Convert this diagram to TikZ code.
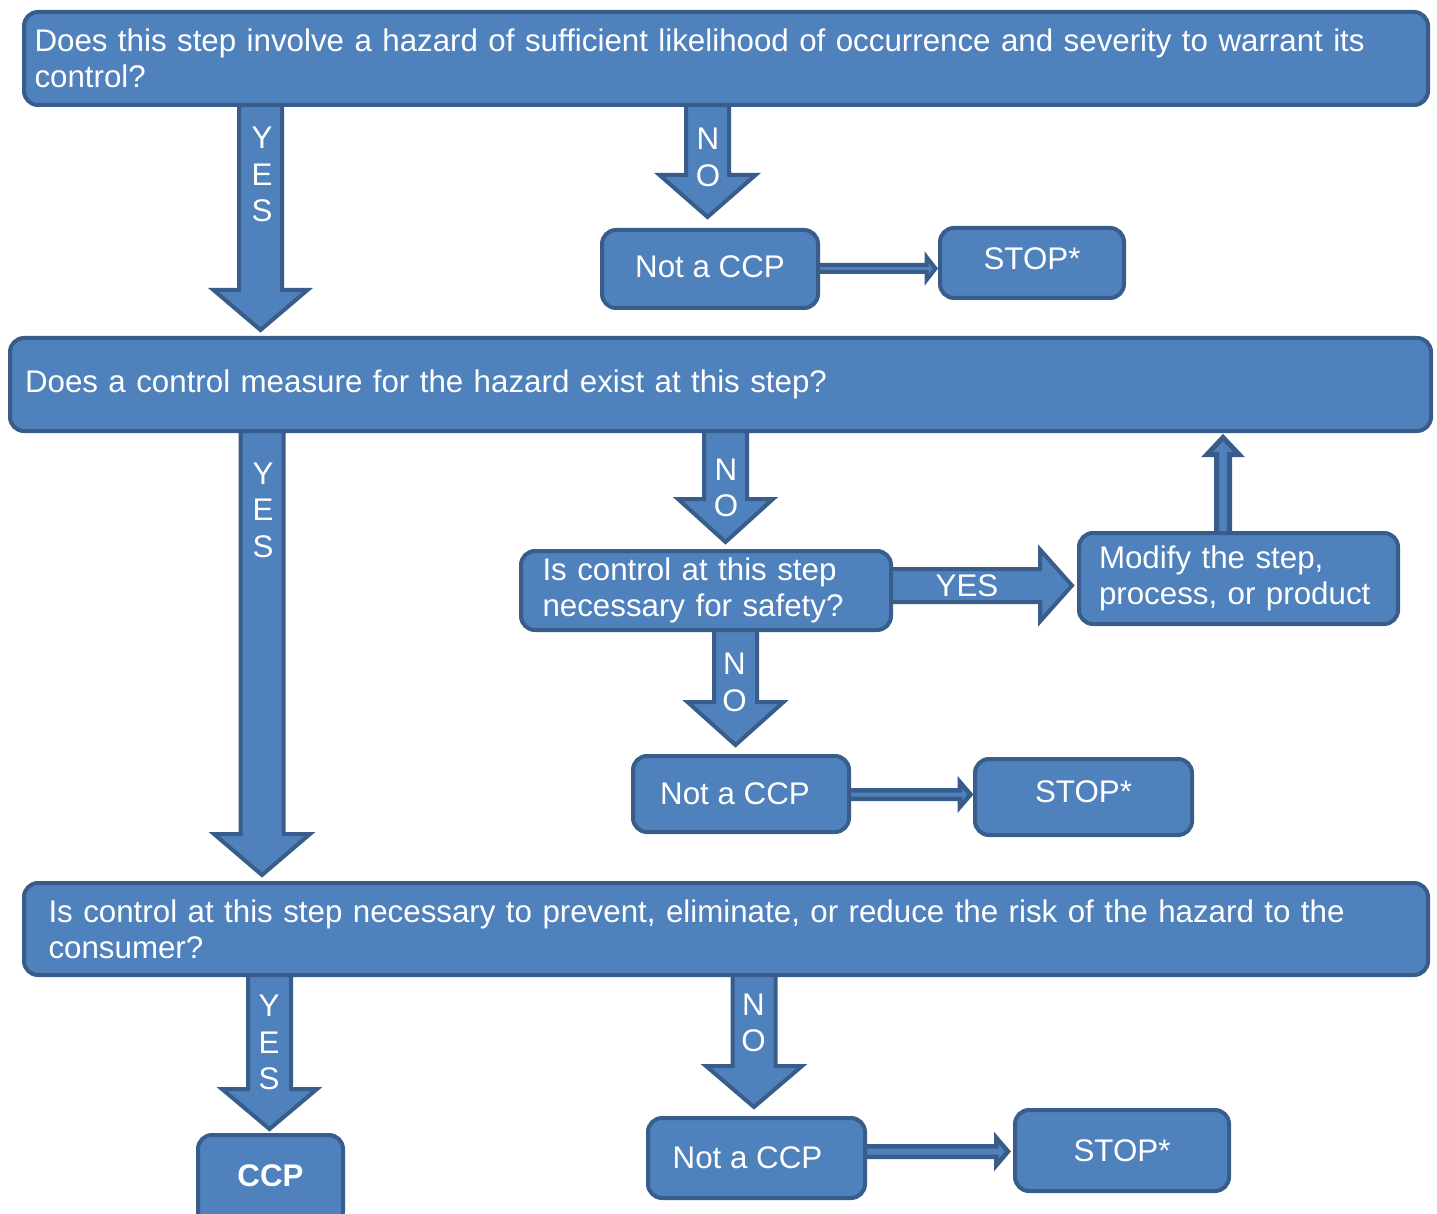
\documentclass[tikz,border=0pt]{standalone}
\usepackage{fontspec}
\setmainfont{Liberation Sans}
\usetikzlibrary{calc,backgrounds}
\definecolor{fil}{HTML}{4F81BD}
\definecolor{bdr}{HTML}{385D8A}
\newcommand\mainfs{\fontsize{31.3pt}{36pt}\selectfont}
\newcommand\lblfs{\fontsize{31.3pt}{36.5pt}\selectfont}
% #1 from, #2 to, #3 x, #4 shaft half width, #5 head half width, #6 head length, #7 gap, #8 style
\newcommand{\bkdown}[8]{%
 \draw[#8] let \p1=(#1.south), \p2=(#2.north) in
 ({#3pt-#4pt},{\y1+6pt}) -- ({#3pt+#4pt},{\y1+6pt}) -- ({#3pt+#4pt},{\y2+#7pt+#6pt})
 -- ({#3pt+#5pt},{\y2+#7pt+#6pt}) -- (#3pt,{\y2+#7pt}) -- ({#3pt-#5pt},{\y2+#7pt+#6pt})
 -- ({#3pt-#4pt},{\y2+#7pt+#6pt}) -- cycle;}
% #3 = y (pixels, downward)
\newcommand{\bkright}[8]{%
 \draw[#8] let \p1=(#1.east), \p2=(#2.west) in
 ({\x1-6pt},{-#3pt+#4pt}) -- ({\x2-#7pt-#6pt},{-#3pt+#4pt}) -- ({\x2-#7pt-#6pt},{-#3pt+#5pt})
 -- ({\x2-#7pt},{-#3pt}) -- ({\x2-#7pt-#6pt},{-#3pt-#5pt}) -- ({\x2-#7pt-#6pt},{-#3pt-#4pt})
 -- ({\x1-6pt},{-#3pt-#4pt}) -- cycle;}
\newcommand{\bkup}[8]{%
 \draw[#8] let \p1=(#1.north), \p2=(#2.south) in
 ({#3pt-#4pt},{\y1-6pt}) -- ({#3pt-#4pt},{\y2-#7pt-#6pt}) -- ({#3pt-#5pt},{\y2-#7pt-#6pt})
 -- (#3pt,{\y2-#7pt}) -- ({#3pt+#5pt},{\y2-#7pt-#6pt}) -- ({#3pt+#4pt},{\y2-#7pt-#6pt})
 -- ({#3pt+#4pt},{\y1-6pt}) -- cycle;}
\tikzset{
 box/.style={draw=bdr, fill=fil, line width=4pt, rounded corners=14pt, text=white,
   font=\mainfs, inner sep=0pt},
 barrow/.style={draw=bdr, fill=fil, line width=4pt, line join=miter},
 lbl/.style={text=white, font=\lblfs, align=center, inner sep=0pt},
}
\begin{document}
\begin{tikzpicture}[x=1pt,y=-1pt]
\useasboundingbox (0,0) rectangle (1437,1214);
% boxes
\node[box, minimum width=1404pt, minimum height=93pt, text width=1383pt, align=left] (q1) at (726,58.5)
 {Does this step involve a hazard of sufficient likelihood of occurrence and severity to warrant its\\control?};
\node[box, minimum width=216pt, minimum height=78pt] (n1) at (710,269) {\raisebox{2pt}[\height][\depth]{Not a CCP}};
\node[box, minimum width=184pt, minimum height=70pt] (s1) at (1032,263) {\raisebox{4pt}[\height][\depth]{STOP*}};
\node[box, minimum width=1421pt, minimum height=93pt, text width=1391pt, align=left] (q2) at (720.5,384.5)
 {Does a control measure for the hazard exist at this step?};
\node[box, minimum width=370pt, minimum height=79pt, text width=327pt, align=left] (qs) at (706,590.5)
 {Is control at this step\\necessary for safety?};
\node[box, minimum width=319pt, minimum height=91pt, text width=279pt, align=left] (mod) at (1238.5,578.5)
 {Modify the step,\\process, or product};
\node[box, minimum width=216pt, minimum height=76pt] (n2) at (741,794) {\hspace*{-12pt}Not a CCP};
\node[box, minimum width=217pt, minimum height=76pt] (s2) at (1083.5,797) {\raisebox{5pt}[\height][\depth]{STOP*}};
\node[box, minimum width=1404pt, minimum height=92pt, text width=1355pt, align=left] (q3) at (726,929)
 {Is control at this step necessary to prevent, eliminate, or reduce the risk of the hazard to the\\consumer?};
\node[box, minimum width=145pt, minimum height=90pt] (ccp) at (270.5,1180) {\raisebox{4pt}[\height][\depth]{\bfseries CCP}};
\node[box, minimum width=217pt, minimum height=80pt] (n3) at (756.5,1158) {\hspace*{-18pt}Not a CCP};
\node[box, minimum width=214pt, minimum height=81pt] (s3) at (1122,1150.5) {STOP*};
% arrows
\begin{pgfonlayer}{background}
\bkdown{q1}{q2}{260.5}{21.5}{47}{40}{6}{barrow}
\bkdown{q1}{n1}{707.5}{21.5}{48}{42}{11}{barrow}
\bkdown{q2}{q3}{262}{21.5}{48}{41}{6}{barrow}
\bkdown{q2}{qs}{725.5}{21.5}{47.5}{43}{7}{barrow}
\bkdown{qs}{n2}{735.5}{21.5}{48}{43}{9}{barrow}
\bkdown{q3}{ccp}{269.5}{21.5}{47.5}{40}{4}{barrow}
\bkdown{q3}{n3}{754}{21.5}{48}{41}{9}{barrow}
\bkright{qs}{mod}{585.5}{16.5}{36}{32}{5}{barrow}
\bkup{mod}{q2}{1223}{6.5}{16}{17}{4.5}{barrow, line width=5pt}
\bkright{n1}{s1}{268.5}{3.5}{11.5}{9}{2.5}{barrow}
\bkright{n2}{s2}{794.5}{4.25}{12.5}{10.75}{2.5}{barrow, line width=4.5pt}
\bkright{n3}{s3}{1151.5}{5.25}{13.75}{11.75}{5}{barrow, line width=4.5pt}
\end{pgfonlayer}
% arrow labels
\node[lbl] (l1) at (262,174.5) {Y\\E\\S};
\node[lbl] (l2) at (708,157.5) {N\\O};
\node[lbl] (l3) at (263,510) {Y\\E\\S};
\node[lbl] (l4) at (726,488) {N\\O};
\node[lbl] (l5) at (734.5,682.5) {N\\O};
\node[lbl] (l6) at (269,1042.5) {Y\\E\\S};
\node[lbl] (l7) at (753.5,1023) {N\\O};
\node[lbl] (l8) at (967,586) {YES};
\end{tikzpicture}
\end{document}
